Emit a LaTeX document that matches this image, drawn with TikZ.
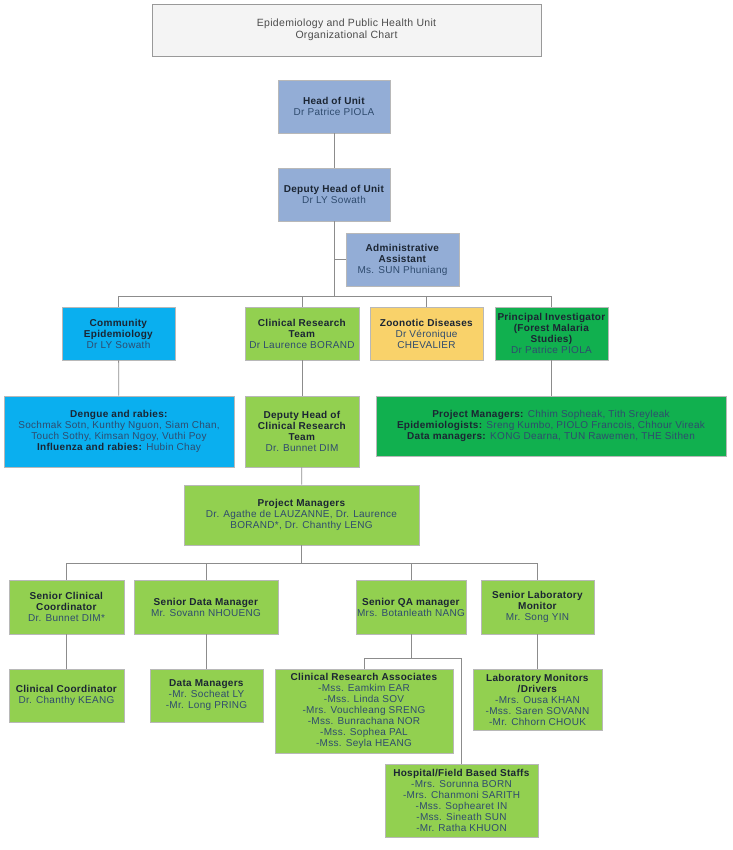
\documentclass[tikz,border=0pt]{standalone}
\usepackage{fontspec}
\setmainfont{Liberation Sans}[LetterSpace=3]
\usepackage{tikz}
\usetikzlibrary{shadows}
\definecolor{steel}{HTML}{93ADD6}
\definecolor{sky}{HTML}{0AAFEF}
\definecolor{lime}{HTML}{92D050}
\definecolor{forest}{HTML}{11B04F}
\definecolor{sand}{HTML}{F9D26A}
\definecolor{mist}{HTML}{F4F4F4}
\definecolor{headtext}{HTML}{1B2533}
\definecolor{nametext}{HTML}{2F4B6E}
\tikzstyle{orgbox}=[draw=black!28, line width=0.6pt, align=center, inner sep=1pt, text=headtext, font=\fontsize{10}{11}\selectfont, drop shadow={shadow xshift=1.2pt, shadow yshift=-1.2pt, fill=black!30}]
\tikzstyle{steelbox}=[orgbox, fill=steel]
\tikzstyle{skybox}=[orgbox, fill=sky]
\tikzstyle{limebox}=[orgbox, fill=lime]
\tikzstyle{forestbox}=[orgbox, fill=forest]
\tikzstyle{sandbox}=[orgbox, fill=sand]
\tikzstyle{link}=[draw=black!45, line width=0.8pt]
\newcommand{\orgnode}{\node[orgbox]}
\newcommand{\nm}[1]{\textcolor{nametext}{#1}}

\begin{document}
\begin{tikzpicture}[x=1pt,y=1pt]
            \useasboundingbox (0,0) rectangle (732,-850);
            \node[orgbox, fill=mist, draw=black!40, text=black!70, font=\fontsize{10.5}{12.5}\selectfont, minimum width=389pt, minimum height=52pt] (title) at (346.5,-30) {Epidemiology and Public Health Unit\\Organizational Chart};
            
            \node[steelbox, minimum width=112pt, minimum height=53pt] (head) at (334,-106.5) {\textbf{Head of Unit}\\\nm{Dr Patrice PIOLA}};
            \node[steelbox, minimum width=112pt, minimum height=53pt] (deputy) at (334,-194.5) {\textbf{Deputy Head of Unit}\\\nm{Dr LY Sowath}};
            \node[steelbox, minimum width=113pt, minimum height=53pt] (admin) at (402.5,-259.5) {\textbf{Administrative}\\\textbf{Assistant}\\\nm{Ms. SUN Phuniang}};
            
            \node[skybox, minimum width=113pt, minimum height=53pt] (comm) at (118.5,-333.5) {\textbf{Community}\\\textbf{Epidemiology}\\\nm{Dr LY Sowath}};
            \node[limebox, minimum width=114pt, minimum height=53pt] (crt) at (302,-333.5) {\textbf{Clinical Research}\\\textbf{Team}\\\nm{Dr Laurence BORAND}};
            \node[sandbox, minimum width=113pt, minimum height=53pt] (zoo) at (426.5,-333.5) {\textbf{Zoonotic Diseases}\\\nm{Dr V\'eronique}\\\nm{CHEVALIER}};
            \node[forestbox, minimum width=113pt, minimum height=53pt] (pi) at (551.5,-333.5) {\textbf{Principal Investigator}\\\textbf{(Forest Malaria}\\\textbf{Studies)}\\\nm{Dr Patrice PIOLA}};
            
            \node[skybox, minimum width=230pt, minimum height=71pt] (dengue) at (119,-431.5) {\textbf{Dengue and rabies:}\\\nm{Sochmak Sotn, Kunthy Nguon, Siam Chan,}\\\nm{Touch Sothy, Kimsan Ngoy, Vuthi Poy}\\\textbf{Influenza and rabies:} \nm{Hubin Chay}};
            \node[limebox, minimum width=114pt, minimum height=71pt] (dcrt) at (302,-431.5) {\textbf{Deputy Head of}\\\textbf{Clinical Research}\\\textbf{Team}\\\nm{Dr. Bunnet DIM}};
            \node[forestbox, minimum width=350pt, minimum height=60pt] (fieldteam) at (551,-426) {\textbf{Project Managers:} \nm{Chhim Sopheak, Tith Sreyleak}\\\textbf{Epidemiologists:} \nm{Sreng Kumbo, PIOLO Francois, Chhour Vireak}\\\textbf{Data managers:} \nm{KONG Dearna, TUN Rawemen, THE Sithen}};
            
            \node[limebox, minimum width=235pt, minimum height=60pt] (pm) at (301.5,-515) {\textbf{Project Managers}\\\nm{Dr. Agathe de LAUZANNE, Dr. Laurence}\\\nm{BORAND*, Dr. Chanthy LENG}};
            
            \node[limebox, minimum width=115pt, minimum height=54pt] (scc) at (66.5,-607) {\textbf{Senior Clinical}\\\textbf{Coordinator}\\\nm{Dr. Bunnet DIM*}};
            \node[limebox, minimum width=144pt, minimum height=54pt] (sdm) at (206,-607) {\textbf{Senior Data Manager}\\\nm{Mr. Sovann NHOUENG}};
            \node[limebox, minimum width=110pt, minimum height=54pt] (sqa) at (411,-607) {\textbf{Senior QA manager}\\\nm{Mrs. Botanleath NANG}};
            \node[limebox, minimum width=113pt, minimum height=54pt] (slm) at (537.5,-607) {\textbf{Senior Laboratory}\\\textbf{Monitor}\\\nm{Mr. Song YIN}};
            
            \node[limebox, minimum width=115pt, minimum height=53pt] (cc) at (66.5,-695.5) {\textbf{Clinical Coordinator}\\\nm{Dr. Chanthy KEANG}};
            \node[limebox, minimum width=113pt, minimum height=53pt] (dm) at (206.5,-695.5) {\textbf{Data Managers}\\\nm{-Mr. Socheat LY}\\\nm{-Mr. Long PRING}};
            \node[limebox, minimum width=178pt, minimum height=84pt] (cra) at (364,-711) {\textbf{Clinical Research Associates}\\\nm{-Mss. Eamkim EAR}\\\nm{-Mss. Linda SOV}\\\nm{-Mrs. Vouchleang SRENG}\\\nm{-Mss. Bunrachana NOR}\\\nm{-Mss. Sophea PAL}\\\nm{-Mss. Seyla HEANG}};
            \node[limebox, minimum width=129pt, minimum height=61pt] (lmd) at (537.5,-699.5) {\textbf{Laboratory Monitors}\\\textbf{/Drivers}\\\nm{-Mrs. Ousa KHAN}\\\nm{-Mss. Saren SOVANN}\\\nm{-Mr. Chhorn CHOUK}};
            \node[limebox, minimum width=153pt, minimum height=73pt] (hosp) at (461.5,-800.5) {\textbf{Hospital/Field Based Staffs}\\\nm{-Mrs. Sorunna BORN}\\\nm{-Mrs. Chanmoni SARITH}\\\nm{-Mss. Sophearet IN}\\\nm{-Mss. Sineath SUN}\\\nm{-Mr. Ratha KHUON}};
            
            \coordinate (assist) at (334,-259.5);
            \coordinate (bus1) at (334,-296);
            \coordinate (bus2) at (301.5,-563);
            \coordinate (bus3) at (411,-658);
            
            \path[link]
            (head) edge (deputy)
            (deputy) edge (bus1)
            (assist) edge (admin)
            (comm) edge (dengue)
            (crt) edge (dcrt)
            (pi) edge (pi |- fieldteam.north)
            (dcrt) edge (pm)
            (pm) edge (bus2)
            (scc) edge (cc)
            (sdm) edge (sdm |- dm.north)
            (sqa) edge (bus3)
            (slm) edge (lmd)
            ;
            \draw[link] (bus1) -| (comm);
            \draw[link] (bus1) -| (crt);
            \draw[link] (bus1) -| (zoo);
            \draw[link] (bus1) -| (pi);
            \draw[link] (bus2) -| (scc);
            \draw[link] (bus2) -| (sdm);
            \draw[link] (bus2) -| (sqa);
            \draw[link] (bus2) -| (slm);
            \draw[link] (bus3) -| (cra);
            \draw[link] (bus3) -| (hosp);
        \end{tikzpicture}
\end{document}
